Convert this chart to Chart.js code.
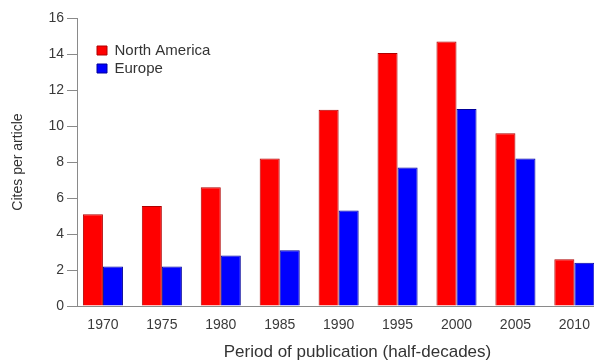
<!DOCTYPE html>
<html lang="en">
<head>
<meta charset="UTF-8">
<meta name="viewport" content="width=device-width, initial-scale=1.0">
<title>Cites per article</title>
<script src="https://cdn.jsdelivr.net/npm/chart.js"></script>
<style>
  html, body { margin: 0; padding: 0; background: #fff; overflow: hidden; }
  /* the figure is wider than the window; the right part is cut off like in the source */
  #wrap { width: 638px; height: 361px; }
</style>
</head>
<body>
<div id="wrap"><canvas id="grafico"></canvas></div>
<script>
  // values
  const periods = [1970, 1975, 1980, 1985, 1990, 1995, 2000, 2005, 2010];
  const northAmerica = [5.1, 5.55, 6.6, 8.2, 10.9, 14.05, 14.7, 9.6, 2.6];
  const europe = [2.2, 2.2, 2.8, 3.1, 5.3, 7.7, 10.95, 8.2, 2.4];
  const yTicks = [0, 2, 4, 6, 8, 10, 12, 14, 16];

  const font = 'Liberation Sans, Arial, sans-serif';
  const axisGray = '#8a8a8a';

  // move the legend into the upper left of the plot
  const legendSpot = {
    id: 'legendSpot',
    afterLayout(chart) {
      chart.legend.left = 94;
      chart.legend.top = 40;
    }
  };

  new Chart(document.getElementById('grafico'), {
    type: 'bar',
    data: {
      datasets: [
        { label: 'North America', data: periods.map((p, i) => ({ x: p, y: northAmerica[i] })),
          backgroundColor: '#ff0000', borderColor: '#b00000', borderWidth: 1 },
        { label: 'Europe', data: periods.map((p, i) => ({ x: p, y: europe[i] })),
          backgroundColor: '#0000ff', borderColor: '#00009a', borderWidth: 1 }
      ]
    },
    options: {
      responsive: true,
      maintainAspectRatio: false,
      animation: false,
      categoryPercentage: 0.68,
      barPercentage: 1,
      layout: { padding: { top: 18, right: 0, bottom: 0, left: 0 } },
      plugins: {
        tooltip: { enabled: false },
        legend: {
          position: 'chartArea',
          align: 'start',
          labels: { font: { family: font, size: 15 }, color: '#333', boxWidth: 10, boxHeight: 9, padding: 3 }
        }
      },
      scales: {
        x: {
          type: 'linear',
          offset: false,
          min: 1967.8,
          max: 2015.4,
          afterBuildTicks: s => { s.ticks = periods.map(v => ({ value: v })); },
          afterFit: s => { s.height = 55; s.paddingLeft = 0; s.paddingRight = 0; },
          grid: { display: false, drawTicks: false },
          border: { color: axisGray, width: 1 },
          ticks: { callback: v => String(v), font: { family: font, size: 14 }, color: '#3a3a3a', padding: 11, maxRotation: 0 },
          title: { display: true, text: 'Period of publication (half-decades)', font: { family: font, size: 17, lineHeight: 1 }, color: '#333', padding: { top: 0, bottom: 0 } }
        },
        y: {
          min: 0,
          max: 16,
          afterBuildTicks: s => { s.ticks = yTicks.map(v => ({ value: v })); },
          afterFit: s => { s.width = 77; },
          grid: { drawOnChartArea: false, drawTicks: true, tickLength: 10, color: axisGray },
          border: { color: axisGray, width: 1 },
          ticks: { font: { family: font, size: 14 }, color: '#3a3a3a', padding: 3 },
          title: { display: true, text: 'Cites per article', font: { family: font, size: 14 }, color: '#333', padding: { top: 10, bottom: 0 } }
        }
      }
    },
    plugins: [legendSpot]
  });
</script>
</body>
</html>
